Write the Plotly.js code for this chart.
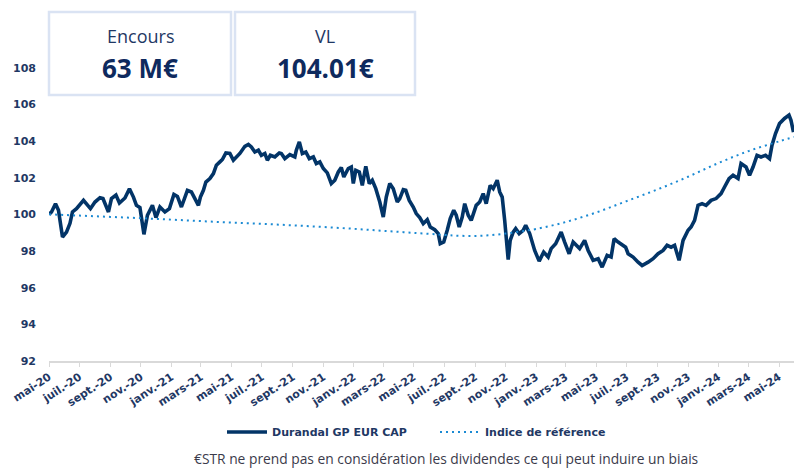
<!DOCTYPE html>
<html>
<head>
<meta charset="utf-8">
<script src="https://cdn.plot.ly/plotly-3.0.1.min.js"></script>
<style>
html,body{margin:0;padding:0;background:#fff;}
#chart{width:794px;height:468px;}
</style>
</head>
<body>
<div id="chart"></div>
<script>
// ---- Data ----
const fundName = 'Durandal GP EUR CAP';
const refName = 'Indice de référence';

const fundDates = [
'2020-05-01','2020-05-06','2020-05-14','2020-05-20','2020-05-28','2020-06-05','2020-06-12','2020-06-17','2020-06-25','2020-07-09',
'2020-07-23','2020-08-01','2020-08-11','2020-08-17','2020-08-28','2020-09-03','2020-09-12','2020-09-19','2020-09-30','2020-10-09',
'2020-10-17','2020-10-23','2020-10-30','2020-11-07','2020-11-14','2020-11-24','2020-12-01','2020-12-09','2020-12-19','2020-12-28',
'2021-01-06','2021-01-13','2021-01-21','2021-02-02','2021-02-10','2021-02-17','2021-02-24','2021-02-28','2021-03-06','2021-03-11',
'2021-03-19','2021-03-26','2021-04-01','2021-04-08','2021-04-13','2021-04-20','2021-04-28','2021-05-05','2021-05-11','2021-05-18',
'2021-05-28','2021-06-04','2021-06-10','2021-06-17','2021-06-24','2021-06-30','2021-07-07','2021-07-12','2021-07-18','2021-07-27',
'2021-08-05','2021-08-09','2021-08-16','2021-08-26','2021-09-05','2021-09-08','2021-09-14','2021-09-20','2021-09-27','2021-10-04',
'2021-10-12','2021-10-18','2021-10-25','2021-11-01','2021-11-09','2021-11-17','2021-11-24','2021-12-01','2021-12-07','2021-12-12',
'2021-12-21','2021-12-27','2021-12-31','2022-01-05','2022-01-12','2022-01-18','2022-01-25','2022-02-01','2022-02-07','2022-02-14',
'2022-02-22','2022-03-01','2022-03-07','2022-03-14','2022-03-21','2022-03-29','2022-04-03','2022-04-10','2022-04-15','2022-04-22',
'2022-04-30','2022-05-06','2022-05-13','2022-05-20','2022-05-28','2022-06-03','2022-06-12','2022-06-19','2022-06-23','2022-06-30',
'2022-07-07','2022-07-13','2022-07-20','2022-07-25','2022-07-31','2022-08-06','2022-08-11','2022-08-18','2022-08-24','2022-09-03',
'2022-09-10','2022-09-17','2022-09-23','2022-10-01','2022-10-07','2022-10-15','2022-10-20','2022-10-25','2022-10-30','2022-11-06',
'2022-11-10','2022-11-16','2022-11-21','2022-11-28','2022-12-06','2022-12-11','2022-12-19','2022-12-29','2023-01-07','2023-01-16',
'2023-01-25','2023-01-31','2023-02-09','2023-02-20','2023-02-27','2023-03-08','2023-03-16','2023-03-29','2023-04-08','2023-04-15',
'2023-04-25','2023-05-05','2023-05-13','2023-05-23','2023-05-31','2023-06-06','2023-06-14','2023-06-20','2023-06-29','2023-07-04',
'2023-07-14','2023-07-24','2023-08-01','2023-08-13','2023-08-23','2023-09-02','2023-09-12','2023-09-20','2023-09-28','2023-10-05',
'2023-10-14','2023-10-22','2023-11-01','2023-11-07','2023-11-14','2023-11-21','2023-11-29','2023-12-07','2023-12-17','2023-12-27',
'2024-01-06','2024-01-13','2024-01-22','2024-01-30','2024-02-09','2024-02-15','2024-02-25','2024-03-03','2024-03-10','2024-03-18',
'2024-03-26','2024-04-04','2024-04-12','2024-04-17','2024-04-24','2024-05-02','2024-05-12','2024-05-21','2024-05-25','2024-05-30'
];
const fundValues = [
100.00,100.13,100.58,100.22,98.76,99.03,99.51,100.13,100.31,100.76,
100.31,100.67,100.91,100.86,100.13,100.86,101.05,100.62,100.89,101.40,
100.94,100.49,100.37,98.91,99.95,100.49,99.82,100.40,100.13,100.31,
101.09,100.98,100.40,101.31,101.22,100.80,100.49,100.94,101.31,101.76,
101.95,102.22,102.68,102.86,102.99,103.35,103.32,102.95,103.13,103.32,
103.71,103.81,103.68,103.40,103.50,103.22,103.32,102.95,103.22,103.13,
103.35,103.32,103.04,103.26,103.13,103.50,103.95,103.32,103.40,103.04,
103.13,102.77,102.86,102.50,102.26,101.68,101.86,102.31,102.55,102.04,
102.50,102.58,101.68,102.40,102.31,101.58,102.62,101.68,101.86,101.40,
100.67,99.85,100.94,101.68,101.40,100.67,100.86,101.35,101.31,100.76,
100.40,100.04,99.82,99.49,99.71,99.31,99.16,98.95,98.40,98.49,
99.13,99.77,100.22,99.95,99.31,99.85,100.58,99.95,99.67,100.49,
100.67,101.13,100.58,101.58,101.40,101.86,101.22,100.94,99.67,97.53,
98.58,99.03,99.22,98.95,99.13,99.40,98.95,98.03,97.45,97.94,
97.67,98.13,98.40,99.03,98.49,97.85,98.49,98.13,98.58,98.03,
97.49,97.58,97.12,97.76,97.67,98.67,98.49,98.40,98.21,97.85,
97.67,97.39,97.21,97.39,97.58,97.85,98.03,98.31,98.21,98.31,
97.49,98.58,99.13,99.31,99.67,100.49,100.58,100.49,100.76,100.86,
101.13,101.49,101.95,102.13,101.95,102.77,102.58,102.13,102.58,103.22,
103.13,103.22,103.04,103.77,104.41,104.95,105.23,105.41,105.13,104.49
];

const refDates = [
'2020-05-01','2020-07-01','2020-09-01','2020-11-01','2021-01-01','2021-03-01','2021-05-01','2021-07-01','2021-09-01','2021-11-01',
'2022-01-01','2022-03-01','2022-05-01','2022-07-01','2022-08-01','2022-09-01','2022-10-01','2022-11-01','2022-12-01','2023-01-01',
'2023-03-01','2023-05-01','2023-07-01','2023-09-01','2023-11-01','2024-01-01','2024-03-01','2024-05-01','2024-05-31'
];
const refValues = [
100.00,99.93,99.86,99.79,99.71,99.63,99.55,99.48,99.40,99.31,
99.21,99.10,98.99,98.88,98.83,98.82,98.86,98.95,99.07,99.20,
99.58,100.10,100.72,101.36,102.05,102.80,103.45,103.98,104.22
];

const tickDates = ['2020-05-01','2020-07-01','2020-09-01','2020-11-01','2021-01-01','2021-03-01','2021-05-01','2021-07-01','2021-09-01','2021-11-01','2022-01-01','2022-03-01','2022-05-01','2022-07-01','2022-09-01','2022-11-01','2023-01-01','2023-03-01','2023-05-01','2023-07-01','2023-09-01','2023-11-01','2024-01-01','2024-03-01','2024-05-01'];
const tickLabels = ['mai-20','juil.-20','sept.-20','nov.-20','janv.-21','mars-21','mai-21','juil.-21','sept.-21','nov.-21','janv.-22','mars-22','mai-22','juil.-22','sept.-22','nov.-22','janv.-23','mars-23','mai-23','juil.-23','sept.-23','nov.-23','janv.-24','mars-24','mai-24'];
const yTicks = [92,94,96,98,100,102,104,106,108];

const kpiLabels = ['Encours','VL'];
const kpiValues = ['63 M€','104.01€'];
const footnote = '€STR ne prend pas en considération les dividendes ce qui peut induire un biais';

// ---- Chart ----
const tickFont = {family:'DejaVu Sans', size:11, color:'#1f3864', weight:'bold'};

const traces = [
  {x: fundDates, y: fundValues, name: fundName, type:'scatter', mode:'lines',
   line:{color:'#023467', width:3.6}},
  {x: refDates, y: refValues, name: refName, type:'scatter', mode:'lines',
   line:{color:'#1b8ad3', width:2, dash:'2px,4px', shape:'spline'}}
];

const L=49, R=794, T=31, B=361;
const W=R-L, H=B-T;
const px = v => (v-L)/W;
const py = v => (B-v)/H;

const boxes = [[49,231],[235,415]];
const shapes = boxes.map(b => ({type:'rect', xref:'paper', yref:'paper',
  x0:px(b[0]), x1:px(b[1]), y0:py(95), y1:py(12),
  line:{color:'#dae3f3', width:2.5}, fillcolor:'#ffffff', layer:'above'}));

const annotations = [];
boxes.forEach((b,i) => {
  const cx = px((b[0]+b[1])/2);
  annotations.push({xref:'paper', yref:'paper', x:cx, y:py(36), text:kpiLabels[i], showarrow:false,
    xanchor:'center', yanchor:'middle', font:{family:'Open Sans', size:18, color:'#1f3864'}});
  annotations.push({xref:'paper', yref:'paper', x:cx, y:py(68), text:'<b>'+kpiValues[i]+'</b>', showarrow:false,
    xanchor:'center', yanchor:'middle', font:{family:'Open Sans', size:26, color:'#0e2a5e'}});
});
annotations.push({xref:'paper', yref:'paper', x:px(446), y:py(458), text:footnote, showarrow:false,
  xanchor:'center', yanchor:'middle', font:{family:'Open Sans', size:13.8, color:'#3b3b4b'}});

const layout = {
  width:794, height:468,
  margin:{l:L, r:794-R, t:T, b:468-B, pad:0},
  paper_bgcolor:'#ffffff', plot_bgcolor:'#ffffff',
  showlegend:true,
  legend:{orientation:'h', x:px(222), y:py(432), xanchor:'left', yanchor:'middle',
    font:{family:'DejaVu Sans', size:11, color:'#1f3864', weight:'bold'},
    itemwidth:40, traceorder:'normal', entrywidth:158, entrywidthmode:'pixels'},
  xaxis:{type:'date', range:['2020-05-01','2024-05-31'], tickvals:tickDates, ticktext:tickLabels,
    tickangle:-33, tickfont:tickFont, showgrid:false, zeroline:false,
    showline:true, linecolor:'#d9d9d9', linewidth:1.5,
    ticks:'outside', ticklen:4, tickcolor:'#d9d9d9', tickwidth:1, automargin:false, fixedrange:true},
  yaxis:{range:[92,110], tickvals:yTicks, ticktext:yTicks.map(String), tickfont:tickFont,
    showgrid:false, zeroline:false, showline:false, ticks:'', ticklabelstandoff:12, automargin:false, fixedrange:true},
  shapes:shapes,
  annotations:annotations
};

Plotly.newPlot('chart', traces, layout, {displayModeBar:false, staticPlot:true});
</script>
</body>
</html>
